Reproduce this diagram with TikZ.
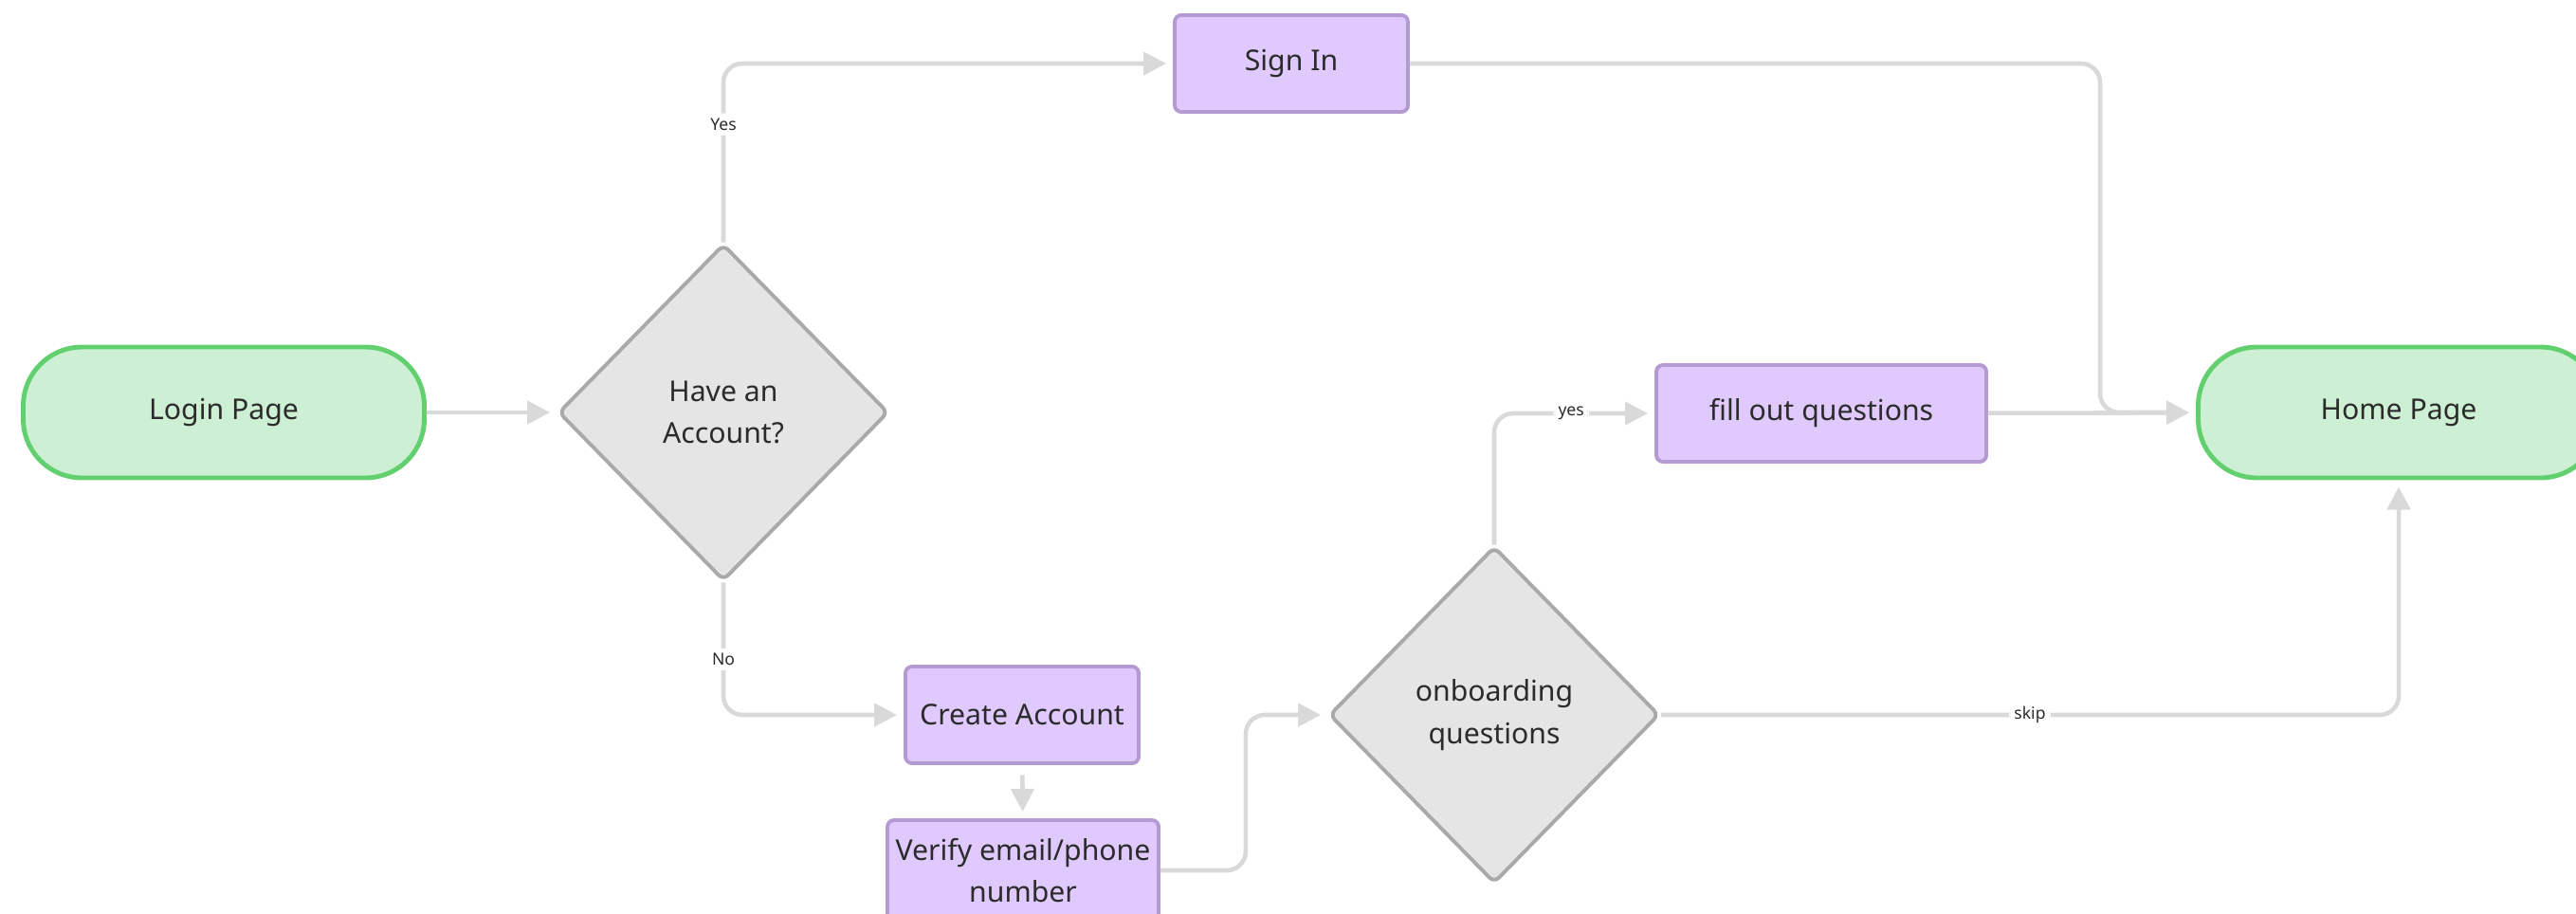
\documentclass[tikz,border=0pt]{standalone}
\usepackage{fontspec}
\setmainfont{Noto Sans}
\usepackage{tikz}
\usetikzlibrary{positioning,arrows.meta,shapes.geometric}
\usepackage{xcolor}
\definecolor{pagefill}{HTML}{CDEFD3}
\definecolor{pageline}{HTML}{62D06E}
\definecolor{taskfill}{HTML}{E0C9FD}
\definecolor{taskline}{HTML}{B49AD2}
\definecolor{askfill}{HTML}{E5E5E5}
\definecolor{askline}{HTML}{A9A9A9}
\definecolor{wire}{HTML}{D9D9D9}
\definecolor{ink}{HTML}{2B2B2B}
\newcommand{\boxfont}{\fontsize{8.6}{12.6}\selectfont}
\tikzset{page/.style={draw=pageline,fill=pagefill,line width=1.4pt,rounded corners=0.62cm,
    minimum width=4.23cm,minimum height=1.38cm,font=\boxfont,text=ink},
  task/.style={draw=taskline,fill=taskfill,line width=1.1pt,rounded corners=2pt,
    minimum height=1.02cm,font=\boxfont,text=ink,align=center,inner xsep=2pt},
  ask/.style={diamond,draw=askline,fill=askfill,line width=1.1pt,rounded corners=2pt,
    minimum width=3.48cm,minimum height=3.55cm,inner sep=0pt,font=\boxfont,text=ink,align=center},
  flow/.style={draw=wire,line width=1.3pt,rounded corners=0.2cm,
    -{Triangle[length=0.24cm,width=0.24cm]},shorten >=2pt},
  tag/.style={fill=white,font=\tiny,text=ink,inner sep=1.5pt}}

\begin{document}
\begin{tikzpicture}
    \useasboundingbox (0,0) rectangle (27.17,9.63);
    \node[page] (login) at (2.36,5.28) {Login Page};
    \node[ask] (acct) at (7.63,5.28) {Have an\\Account?};
    \node[task,minimum width=2.46cm] (signin) at (13.62,8.96) {Sign In};
    \node[task,minimum width=2.46cm] (create) at (10.78,2.09) {Create Account};
    \node[task,minimum width=2.86cm,minimum height=1.06cm] (verify) at (10.79,0.45) {Verify email/phone\\number};
    \node[ask] (onboard) at (15.76,2.09) {onboarding\\questions};
    \node[task,minimum width=3.48cm] (fillout) at (19.21,5.27) {fill out questions};
    \node[page] (home) at (25.30,5.28) {Home Page};
    \coordinate (merge) at (22.15,5.28);

    \draw[flow] (login) -- (acct);
    \draw[flow] (acct.north) |- (signin.west) node[tag,pos=0.33]{Yes};
    \draw[flow] (acct.south) |- (create.west) node[tag,pos=0.29]{No};
    \draw[flow,shorten <=3pt] (create) -- (verify);
    \draw[flow] (verify.east) -- ++(0.9,0) |- (onboard.west);
    \draw[flow] (onboard.north) |- (fillout.west) node[tag,pos=0.74]{yes};
    \draw[flow] (onboard.east) -| (home.south) node[tag,pos=0.25]{skip};
    \draw[flow] (fillout) -- (home);
    \draw[flow] (signin.east) -| (merge) -- (home.west);
\end{tikzpicture}
\end{document}
